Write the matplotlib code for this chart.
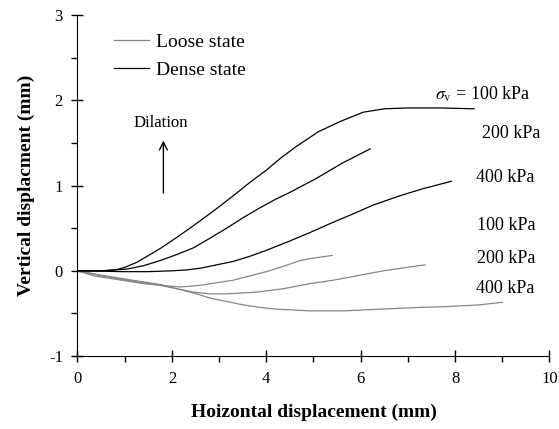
import matplotlib
matplotlib.use("Agg")
import matplotlib.pyplot as plt
from matplotlib.ticker import MultipleLocator

plt.rcParams['font.family'] = ['Liberation Serif', 'DejaVu Serif']
plt.rcParams['mathtext.fontset'] = 'stix'
plt.rcParams['axes.unicode_minus'] = False

# Dense state curves
dense_100_x = [0, 0.5, 0.8, 1.0, 1.26, 1.75, 2.1, 2.46, 2.95, 3.3, 3.66, 4.0, 4.3, 4.64, 5.1, 5.56, 6.05, 6.5, 6.97, 7.7, 8.4]
dense_100_y = [0, 0, 0.01, 0.04, 0.1, 0.26, 0.39, 0.53, 0.73, 0.88, 1.04, 1.18, 1.32, 1.46, 1.63, 1.75, 1.86, 1.9, 1.91, 1.91, 1.9]
dense_200_x = [0, 0.5, 1.05, 1.4, 1.75, 2.1, 2.46, 2.8, 3.16, 3.5, 3.87, 4.2, 4.5, 5.05, 5.6, 6.2]
dense_200_y = [0, 0, 0.02, 0.06, 0.12, 0.19, 0.27, 0.38, 0.5, 0.62, 0.74, 0.84, 0.92, 1.08, 1.26, 1.43]
dense_400_x = [0, 1.0, 1.5, 2.0, 2.3, 2.6, 2.95, 3.3, 3.65, 4.0, 4.5, 4.93, 5.42, 5.85, 6.26, 6.83, 7.3, 7.92]
dense_400_y = [0, -0.01, -0.01, 0.0, 0.01, 0.03, 0.07, 0.11, 0.17, 0.24, 0.35, 0.45, 0.57, 0.67, 0.77, 0.88, 0.96, 1.05]

# Loose state curves
loose_100_x = [0, 0.35, 1.05, 1.4, 1.75, 2.18, 2.6, 2.95, 3.3, 3.65, 4.0, 4.35, 4.71, 5.0, 5.4]
loose_100_y = [0, -0.06, -0.12, -0.15, -0.17, -0.19, -0.17, -0.14, -0.11, -0.06, -0.01, 0.05, 0.12, 0.15, 0.18]
loose_200_x = [0, 0.5, 1.05, 1.75, 2.1, 2.46, 2.8, 3.16, 3.8, 4.36, 4.93, 5.42, 6.0, 6.48, 7.36]
loose_200_y = [0, -0.05, -0.1, -0.16, -0.21, -0.25, -0.27, -0.27, -0.25, -0.21, -0.15, -0.11, -0.05, 0.0, 0.07]
loose_400_x = [0, 0.5, 1.05, 1.75, 2.1, 2.46, 2.81, 3.16, 3.52, 3.87, 4.22, 4.6, 4.93, 5.63, 6.41, 7.2, 7.82, 8.5, 9.0]
loose_400_y = [0, -0.06, -0.11, -0.17, -0.21, -0.26, -0.32, -0.36, -0.4, -0.43, -0.45, -0.46, -0.47, -0.47, -0.45, -0.43, -0.42, -0.4, -0.37]

fig = plt.figure(figsize=(5.59, 4.29), dpi=100)
ax = fig.add_axes([0.1386, 0.170, 0.8444, 0.795])

loose_col = '#858585'
ax.plot(loose_100_x, loose_100_y, color=loose_col, lw=0.9, label='Loose state')
ax.plot(loose_200_x, loose_200_y, color=loose_col, lw=0.9)
ax.plot(loose_400_x, loose_400_y, color=loose_col, lw=0.9)
ax.plot(dense_100_x, dense_100_y, color='black', lw=0.9, label='Dense state')
ax.plot(dense_200_x, dense_200_y, color='black', lw=0.9)
ax.plot(dense_400_x, dense_400_y, color='black', lw=0.9)

ax.set_xlim(0, 10)
ax.set_ylim(-1, 3)
ax.xaxis.set_major_locator(MultipleLocator(2))
ax.xaxis.set_minor_locator(MultipleLocator(1))
ax.yaxis.set_major_locator(MultipleLocator(1))
ax.yaxis.set_minor_locator(MultipleLocator(0.5))
ax.tick_params(which='major', direction='inout', length=9, width=1, labelsize=12, pad=6)
ax.tick_params(which='minor', direction='out', length=4, width=1)
ax.spines['top'].set_visible(False)
ax.spines['right'].set_visible(False)

ax.set_xlabel('Hoizontal displacement (mm)', fontsize=14, fontweight='bold', labelpad=12)
ax.set_ylabel('Vertical displacment (mm)', fontsize=14, fontweight='bold', labelpad=10)

ax.legend(loc='upper left', bbox_to_anchor=(0.061, 0.97), frameon=False, fontsize=14,
          handlelength=1.8, handletextpad=0.35, labelspacing=0.55, borderaxespad=0)

ax.text(7.57, 2.07, r'$\sigma_\mathrm{v}$ = 100 kPa', fontsize=13, va='center', ha='left')
ax.text(8.56, 1.61, '200 kPa', fontsize=13, va='center', ha='left')
ax.text(8.44, 1.09, '400 kPa', fontsize=13, va='center', ha='left')
ax.text(8.46, 0.53, '100 kPa', fontsize=13, va='center', ha='left')
ax.text(8.46, 0.15, '200 kPa', fontsize=13, va='center', ha='left')
ax.text(8.44, -0.21, '400 kPa', fontsize=13, va='center', ha='left')

ax.text(1.77, 1.73, 'Dilation', fontsize=12, va='center', ha='center')
ax.annotate('', xy=(1.82, 1.56), xytext=(1.82, 0.88),
            arrowprops=dict(arrowstyle='->', color='black', lw=1.0, mutation_scale=14))

fig.savefig('out.png', dpi=100)
